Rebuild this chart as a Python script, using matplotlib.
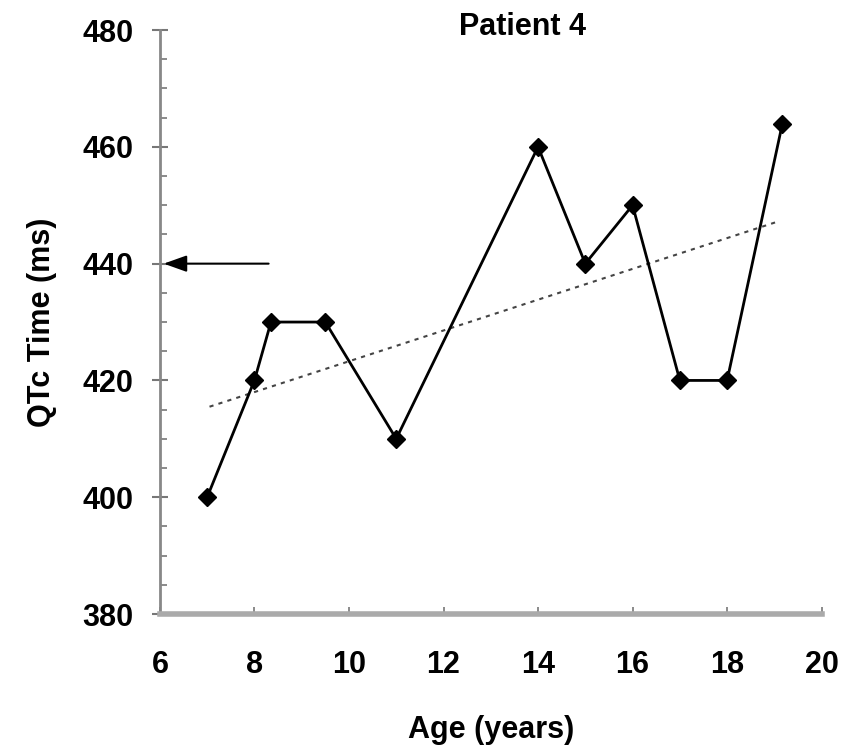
"""
Patient 4: QTc time vs age, with trend line and reference arrow at 440 ms.
"""
import matplotlib
matplotlib.use("Agg")
import matplotlib.pyplot as plt
from matplotlib.ticker import MultipleLocator

# ── data ───────────────────────────────────────────────────────────────────
age = [7.0, 8.0, 8.35, 9.5, 11.0, 14.0, 15.0, 16.0, 17.0, 18.0, 19.17]
qtc = [400, 420, 430, 430, 410, 460, 440, 450, 420, 420, 464]

trend_age = [7.05, 19.07]
trend_qtc = [415.5, 447.2]

arrow_from = (8.3, 440)
arrow_to = (6.08, 440)

x_ticks = [6, 8, 10, 12, 14, 16, 18, 20]
y_ticks = [380, 400, 420, 440, 460, 480]

plt.rcParams["font.family"] = ["Liberation Sans", "DejaVu Sans"]
plt.rcParams["font.weight"] = "bold"

FS = 22

fig = plt.figure(figsize=(8.55, 7.52), dpi=100)
ax = fig.add_axes([0.187, 0.1835, 0.774, 0.7765])

ax.plot(age, qtc, color="black", linewidth=2, marker="D", markersize=9,
        markerfacecolor="black", markeredgecolor="black", zorder=3)
ax.plot(trend_age, trend_qtc, color="#444444", linewidth=1.5,
        linestyle=(0, (2, 2.5)), zorder=2)

ax.annotate("", xy=arrow_to, xytext=arrow_from,
            arrowprops=dict(arrowstyle="-|>,head_length=1.4,head_width=0.5",
                            color="black", lw=1.5, shrinkA=0, shrinkB=0),
            annotation_clip=False)

ax.set_xlim(6, 20)
ax.set_ylim(380, 480)
ax.set_xticks(x_ticks)
ax.set_yticks(y_ticks)
ax.yaxis.set_minor_locator(MultipleLocator(5))

ax.tick_params(axis="y", which="major", direction="inout", length=12,
               width=1.5, color="#777777", pad=13, labelsize=FS)
ax.tick_params(axis="y", which="minor", direction="in", length=5,
               width=1.2, color="#777777")
ax.tick_params(axis="x", which="major", direction="in", length=5,
               width=1.2, color="#777777", pad=26, labelsize=FS)

for side in ("top", "right"):
    ax.spines[side].set_visible(False)
ax.spines["left"].set_color("#888888")
ax.spines["left"].set_linewidth(2)
ax.spines["bottom"].set_color("#aaaaaa")
ax.spines["bottom"].set_linewidth(4)

ax.set_xlabel("Age (years)", fontsize=FS, fontweight="bold", labelpad=25)
ax.set_ylabel("QTc Time (ms)", fontsize=FS, fontweight="bold", labelpad=18)
fig.text(522 / 855, 0.964, "Patient 4", fontsize=FS, fontweight="bold",
         ha="center", va="center")

fig.savefig("out.png", dpi=100)
